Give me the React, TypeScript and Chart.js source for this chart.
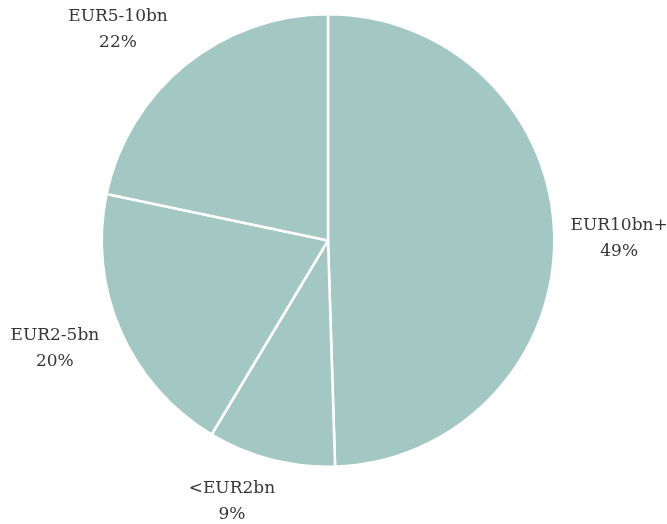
import React, { useEffect, useRef } from 'react';
import Chart from 'chart.js/auto';

const categories: string[] = ['EUR10bn+', '<EUR2bn', 'EUR2-5bn', 'EUR5-10bn'];
const shares: number[] = [49.5, 9.1, 19.7, 21.7];
const percentLabels: string[] = ['49%', '9%', '20%', '22%'];

const SLICE_COLOR = '#a3c8c4';
const TEXT_COLOR = '#363636';
const FONT = '17px "DejaVu Serif", serif';
const LINE_GAP = 26;
const LABEL_GAP = 22;
// small per-label nudges to mimic the original "best fit" label placement
const labelNudges: [number, number][] = [
  [-6, 3],
  [-26, -8],
  [-1, -11],
  [-24, 18],
];

const outsideLabels = {
  id: 'outsideLabels',
  afterDatasetsDraw(chart: any) {
    const ctx = chart.ctx as CanvasRenderingContext2D;
    const meta = chart.getDatasetMeta(0);
    ctx.save();
    ctx.font = FONT;
    ctx.fillStyle = TEXT_COLOR;
    ctx.textAlign = 'center';
    ctx.textBaseline = 'middle';
    meta.data.forEach((arc: any, i: number) => {
      const { x, y, startAngle, endAngle, outerRadius } = arc.getProps(
        ['x', 'y', 'startAngle', 'endAngle', 'outerRadius'],
        true
      );
      const mid = (startAngle + endAngle) / 2;
      const ux = Math.cos(mid);
      const uy = Math.sin(mid);
      const l1 = categories[i];
      const l2 = percentLabels[i];
      const w = Math.max(ctx.measureText(l1).width, ctx.measureText(l2).width);
      const h = LINE_GAP + 14;
      const dist = outerRadius + LABEL_GAP + (Math.abs(ux) * w) / 2 + (Math.abs(uy) * h) / 2;
      const n = labelNudges[i] || [0, 0];
      const cx = x + ux * dist + n[0];
      const cy = y + uy * dist + n[1];
      ctx.fillText(l1, cx, cy - LINE_GAP / 2);
      ctx.fillText(l2, cx, cy + LINE_GAP / 2);
    });
    ctx.restore();
  },
};

export default function App() {
  const ref = useRef<HTMLCanvasElement | null>(null);
  useEffect(() => {
    if (!ref.current) return;
    const chart = new Chart(ref.current, {
      type: 'pie',
      data: {
        labels: categories,
        datasets: [
          {
            data: shares,
            backgroundColor: SLICE_COLOR,
            borderColor: '#ffffff',
            borderWidth: 2.5,
          },
        ],
      },
      options: {
        responsive: false,
        animation: false,
        layout: { padding: { left: 100, right: 111, top: 13, bottom: 56 } },
        plugins: {
          legend: { display: false },
          tooltip: { enabled: false },
        },
      },
      plugins: [outsideLabels],
    });
    return () => chart.destroy();
  }, []);
  return (
    <div style={{ position: 'fixed', left: 0, top: 0, width: 667, height: 524, background: '#fff' }}>
      <canvas ref={ref} width={667} height={524} style={{ display: 'block', width: 667, height: 524 }} />
    </div>
  );
}
